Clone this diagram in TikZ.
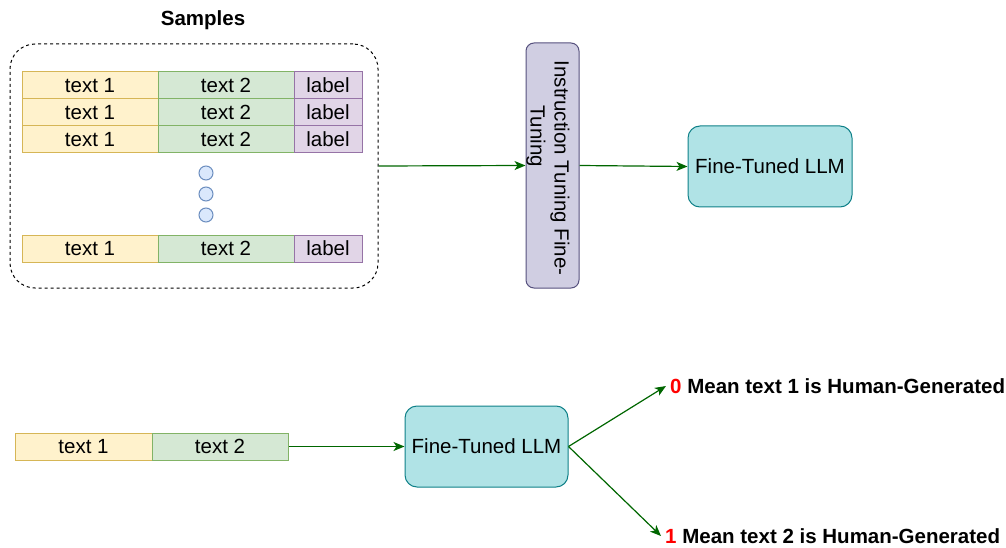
\documentclass[tikz,border=0pt]{standalone}
\usepackage{fontspec}
\setmainfont{Liberation Sans}
\usetikzlibrary{arrows.meta}
\definecolor{yfill}{HTML}{FFF2CC}\definecolor{ydraw}{HTML}{D6B656}
\definecolor{gfill}{HTML}{D5E8D4}\definecolor{gdraw}{HTML}{82B366}
\definecolor{pfill}{HTML}{E1D5E7}\definecolor{pdraw}{HTML}{9673A6}
\definecolor{bfill}{HTML}{DAE8FC}\definecolor{bdraw}{HTML}{6C8EBF}
\definecolor{ifill}{HTML}{D0CEE2}\definecolor{idraw}{HTML}{56517E}
\definecolor{lfill}{HTML}{B0E3E6}\definecolor{ldraw}{HTML}{0E8088}
\definecolor{arr}{HTML}{006600}
\begin{document}
\begin{tikzpicture}[x=1pt,y=-1pt,font=\fontsize{20.5}{23}\selectfont,
  cell/.style={draw,line width=1pt,inner sep=0pt,minimum height=27pt},
  t1cell/.style={cell,fill=yfill,draw=ydraw,minimum width=136pt},
  t2cell/.style={cell,fill=gfill,draw=gdraw,minimum width=136pt},
  labcell/.style={cell,fill=pfill,draw=pdraw,minimum width=68pt},
  dot/.style={circle,draw=bdraw,fill=bfill,line width=1pt,minimum size=14pt,inner sep=0pt},
  llm/.style={draw=ldraw,fill=lfill,line width=1pt,rounded corners=12pt,minimum width=164pt,minimum height=81pt,inner sep=0pt},
  conn/.style={draw=arr,line width=1.2pt,-{Stealth[length=11pt,width=9pt,inset=3pt]}},
  outlab/.style={anchor=west,inner xsep=4pt,inner ysep=1pt,font=\fontsize{20.5}{23}\selectfont\bfseries}]
\useasboundingbox (0,0) rectangle (1006,548);
\node[font=\fontsize{20.5}{23}\selectfont\bfseries] (samples) at (203,20) {Samples};
\node[draw,dashed,line width=1pt,rounded corners=25pt,minimum width=368pt,minimum height=244pt,inner sep=0pt] (sbox) at (194,166) {};
\foreach \r/\y in {a/85.5,b/112.5,c/139.5,d/248.5}{
  \node[t1cell] (\r1) at (90,\y) {text 1};
  \node[t2cell] (\r2) at (226,\y) {text 2};
  \node[labcell] (\r3) at (328,\y) {label};
}
\node[dot] (d1) at (206,173) {};
\node[dot] (d2) at (206,194) {};
\node[dot] (d3) at (206,215) {};
\node[draw=idraw,fill=ifill,line width=1pt,rounded corners=8pt,minimum width=53pt,minimum height=245pt,inner sep=0pt] (itt) at (552.5,165.5) {};
\node[rotate=-90,inner sep=0pt] (ittl1) at (560,168) {Instruction Tuning Fine-};
\node[rotate=-90,inner sep=0pt] (ittl2) at (536,136) {Tuning};
\node[llm] (llm1) at (770,166.5) {Fine-Tuned LLM};
\draw[conn] (sbox.east) -- (itt.west);
\draw[conn] (itt.east) -- (llm1.west);
\node[cell,fill=yfill,draw=ydraw,minimum width=137pt] (e1) at (83.5,446.5) {text 1};
\node[t2cell] (e2) at (220,446.5) {text 2};
\node[llm,minimum width=163pt] (llm2) at (486.5,446.5) {Fine-Tuned LLM};
\draw[conn] (e2.east) -- (llm2.west);
\node[outlab] (o1) at (666,386) {\textcolor{red}{0} Mean text 1 is Human-Generated};
\node[outlab] (o2) at (661,536) {\textcolor{red}{1} Mean text 2 is Human-Generated};
\draw[conn] (llm2.east) -- (o1.west);
\draw[conn] (llm2.east) -- (o2.west);
\end{tikzpicture}
\end{document}
